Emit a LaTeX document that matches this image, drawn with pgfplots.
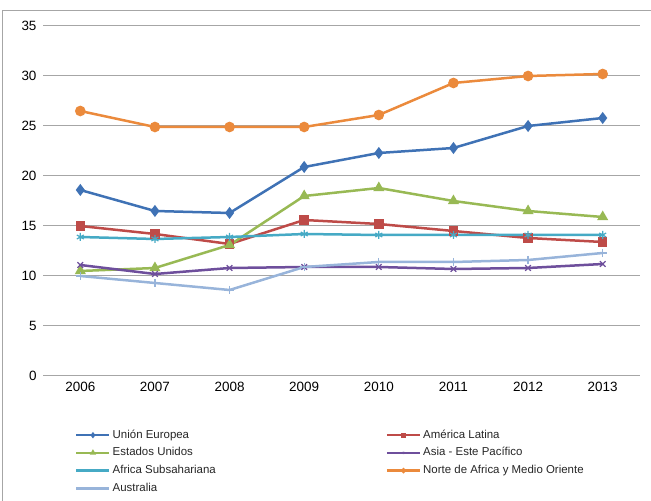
\documentclass[border=0pt]{standalone}
\usepackage{pgfplots}
\pgfplotsset{compat=1.18}
\usepackage{fontspec}
\setmainfont{Liberation Sans}
\definecolor{cUE}{HTML}{3F72B5}
\definecolor{cAL}{HTML}{BE4B48}
\definecolor{cEU}{HTML}{98B954}
\definecolor{cAS}{HTML}{6E4F9C}
\definecolor{cAF}{HTML}{46AAC5}
\definecolor{cNA}{HTML}{EB8A3C}
\definecolor{cAU}{HTML}{98B4DA}
\definecolor{gridc}{HTML}{A6A6A6}
\begin{document}
\begin{tikzpicture}[x=1bp,y=1bp]
\useasboundingbox (0,0) rectangle (651,501);
\draw[gridc, line width=1bp] (2.5,0) -- (2.5,490) -- (651,490);
\begin{axis}[
  at={(43bp,125bp)}, anchor=south west,
  scale only axis, width=597bp, height=350bp,
  xmin=2005.5, xmax=2013.5, ymin=0, ymax=35,
  xtick={2006,...,2013}, ytick={0,5,...,35},
  axis line style={draw=none},
  tick style={draw=none},
  ymajorgrids, grid style={gridc, line width=1bp},
  /pgf/number format/assume math mode=true,
  xticklabel style={/pgf/number format/1000 sep={}, font=\fontsize{13.5}{15}\selectfont, yshift=-3bp},
  yticklabel style={font=\fontsize{13.5}{15}\selectfont, xshift=-3bp},
  legend columns=2,
  legend cell align=left,
  legend style={at={(0.0536,-0.15)}, anchor=north west, draw=none, fill=none, inner sep=0pt,
    font=\fontsize{11.5}{13}\selectfont, text=black!85, row sep=4.7bp, column sep=0bp,
    nodes={inner xsep=2bp, inner ysep=1bp, text height=8.5bp, text depth=2.5bp}},
  legend image code/.code={\draw[mark repeat=2,mark phase=2,#1,mark size=1.2bp] plot coordinates {(0bp,0bp) (16.5bp,0bp) (33bp,0bp)};},
  every axis plot/.append style={line width=2.5bp},
]
\addplot[cUE, mark=diamond*, mark size=4bp] coordinates {(2006,18.6) (2007,16.5) (2008,16.3) (2009,20.9) (2010,22.3) (2011,22.8) (2012,25.0) (2013,25.8)};
\addlegendentry{\makebox[271bp][l]{Unión Europea}}
\addplot[cAL, mark=square*, mark size=3.5bp] coordinates {(2006,15.0) (2007,14.2) (2008,13.2) (2009,15.6) (2010,15.2) (2011,14.5) (2012,13.8) (2013,13.4)};
\addlegendentry{América Latina}
\addplot[cEU, mark=triangle*, mark size=4bp] coordinates {(2006,10.5) (2007,10.8) (2008,13.1) (2009,18.0) (2010,18.8) (2011,17.5) (2012,16.5) (2013,15.9)};
\addlegendentry{\makebox[271bp][l]{Estados Unidos}}
\addplot[cAS, mark=x, mark size=4bp, mark options={line width=1.2bp}] coordinates {(2006,11.1) (2007,10.2) (2008,10.8) (2009,10.9) (2010,10.9) (2011,10.7) (2012,10.8) (2013,11.2)};
\addlegendentry{Asia - Este Pacífico}
\addplot[cAF, mark=asterisk, mark size=4bp, mark options={line width=1.2bp}] coordinates {(2006,13.9) (2007,13.7) (2008,13.9) (2009,14.2) (2010,14.1) (2011,14.1) (2012,14.1) (2013,14.1)};
\addlegendentry{\makebox[271bp][l]{Africa Subsahariana}}
\addplot[cNA, mark=*, mark size=4bp] coordinates {(2006,26.5) (2007,24.9) (2008,24.9) (2009,24.9) (2010,26.1) (2011,29.3) (2012,30.0) (2013,30.2)};
\addlegendentry{Norte de Africa y Medio Oriente}
\addplot[cAU, mark=+, mark size=4bp, mark options={line width=1.2bp}] coordinates {(2006,10.0) (2007,9.3) (2008,8.6) (2009,10.9) (2010,11.4) (2011,11.4) (2012,11.6) (2013,12.3)};
\addlegendentry{\makebox[271bp][l]{Australia}}
\end{axis}
\end{tikzpicture}
\end{document}
